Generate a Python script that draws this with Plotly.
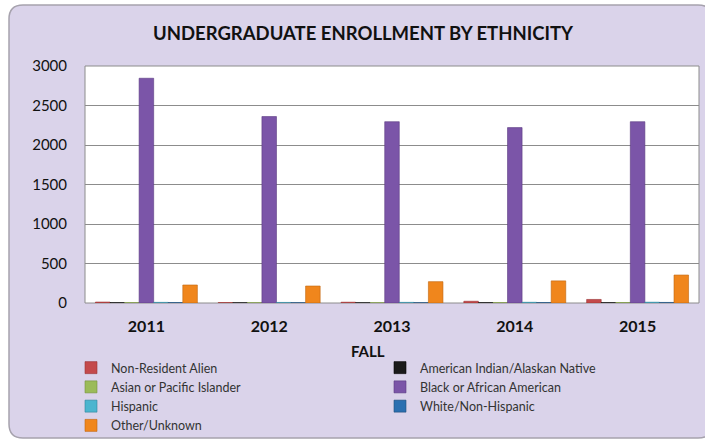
import plotly.graph_objects as go

years = ["2011", "2012", "2013", "2014", "2015"]
series_names = [
    "Non-Resident Alien",
    "American Indian/Alaskan Native",
    "Asian or Pacific Islander",
    "Black or African American",
    "Hispanic",
    "White/Non-Hispanic",
    "Other/Unknown",
]
non_resident_alien = [12, 6, 10, 22, 45]
american_indian = [4, 3, 3, 4, 4]
asian_pacific = [5, 4, 4, 5, 6]
black_african_american = [2845, 2360, 2295, 2220, 2295]
hispanic = [8, 7, 8, 9, 10]
white_non_hispanic = [6, 5, 5, 6, 7]
other_unknown = [228, 215, 270, 280, 354]

values = [non_resident_alien, american_indian, asian_pacific, black_african_american,
          hispanic, white_non_hispanic, other_unknown]
colors = ["#c4494b", "#1a1a1a", "#9bbb59", "#7b55a8", "#4bb5cf", "#2a6fb0", "#f0861c"]
line_colors = ["#9a3234", "#000000", "#76923c", "#5a3b82", "#31859c", "#1f4e79", "#c0650e"]

W, H = 705, 444
L, R, T, B = 85, 6, 66, 141
pw, ph = W - L - R, H - T - B

def px(x):
    return (x - L) / pw

def py(y):
    return (H - B - y) / ph

fig = go.Figure()
for name, vals, c, lc in zip(series_names, values, colors, line_colors):
    fig.add_trace(go.Bar(x=years, y=vals, name=name, marker_color=c,
                         marker_line=dict(color=lc, width=0.6)))

# rounded background panel
x0, y0, x1, y1, r = 9, 5, 712, 438, 14
path = (f"M {px(x0 + r)},{py(y0)} L {px(x1 - r)},{py(y0)} "
        f"Q {px(x1)},{py(y0)} {px(x1)},{py(y0 + r)} L {px(x1)},{py(y1 - r)} "
        f"Q {px(x1)},{py(y1)} {px(x1 - r)},{py(y1)} L {px(x0 + r)},{py(y1)} "
        f"Q {px(x0)},{py(y1)} {px(x0)},{py(y1 - r)} L {px(x0)},{py(y0 + r)} "
        f"Q {px(x0)},{py(y0)} {px(x0 + r)},{py(y0)} Z")
fig.add_shape(type="path", path=path, xref="paper", yref="paper",
              fillcolor="#dad3ea", line=dict(color="#a6a2ad", width=1.5), layer="below")
# white plot area
fig.add_shape(type="rect", xref="paper", yref="paper", x0=0, y0=0, x1=1, y1=1,
              fillcolor="white", line=dict(color="#8c8c8c", width=1), layer="below")

font_family = "Lato, 'Open Sans', sans-serif"
fig.add_annotation(text="<b>UNDERGRADUATE ENROLLMENT BY ETHNICITY</b>", xref="paper", yref="paper",
                   x=px(363), y=py(33), showarrow=False, xanchor="center", yanchor="middle",
                   font=dict(size=18.5, color="#111111", family=font_family))
fig.add_annotation(text="<b>FALL</b>", xref="paper", yref="paper",
                   x=px(368), y=py(351), showarrow=False, xanchor="center", yanchor="middle",
                   font=dict(size=15, color="#111111", family=font_family))

fig.update_layout(
    width=W, height=H,
    margin=dict(l=L, r=R, t=T, b=B, pad=0, autoexpand=False),
    paper_bgcolor="white", plot_bgcolor="rgba(0,0,0,0)",
    barmode="group", bargap=0.17, bargroupgap=0.0,
    font=dict(family=font_family, color="#111111"),
    showlegend=True,
    legend=dict(orientation="h", x=px(71), y=py(353), xanchor="left", yanchor="top",
                entrywidth=264, entrywidthmode="pixels", traceorder="normal",
                font=dict(size=12.5, color="#333333", family=font_family),
                bgcolor="rgba(0,0,0,0)", itemwidth=30, tracegroupgap=0),
)
fig.update_xaxes(showgrid=False, showline=False, ticks="",
                 tickfont=dict(size=16, color="#111111", family=font_family),
                 tickprefix="<b>", ticksuffix="</b>", ticklabelstandoff=12)
fig.update_yaxes(range=[0, 3000], tickvals=[0, 500, 1000, 1500, 2000, 2500, 3000],
                 showgrid=True, gridcolor="#8c8c8c", gridwidth=1, zeroline=False,
                 showline=False, ticks="",
                 tickfont=dict(size=15, color="#111111", family=font_family),
                 tickprefix="<b>", ticksuffix="</b>", ticklabelstandoff=17)

fig.write_html("out.html", config={"displayModeBar": False},
               post_script="document.body.style.margin='0';document.body.style.overflow='hidden';")
